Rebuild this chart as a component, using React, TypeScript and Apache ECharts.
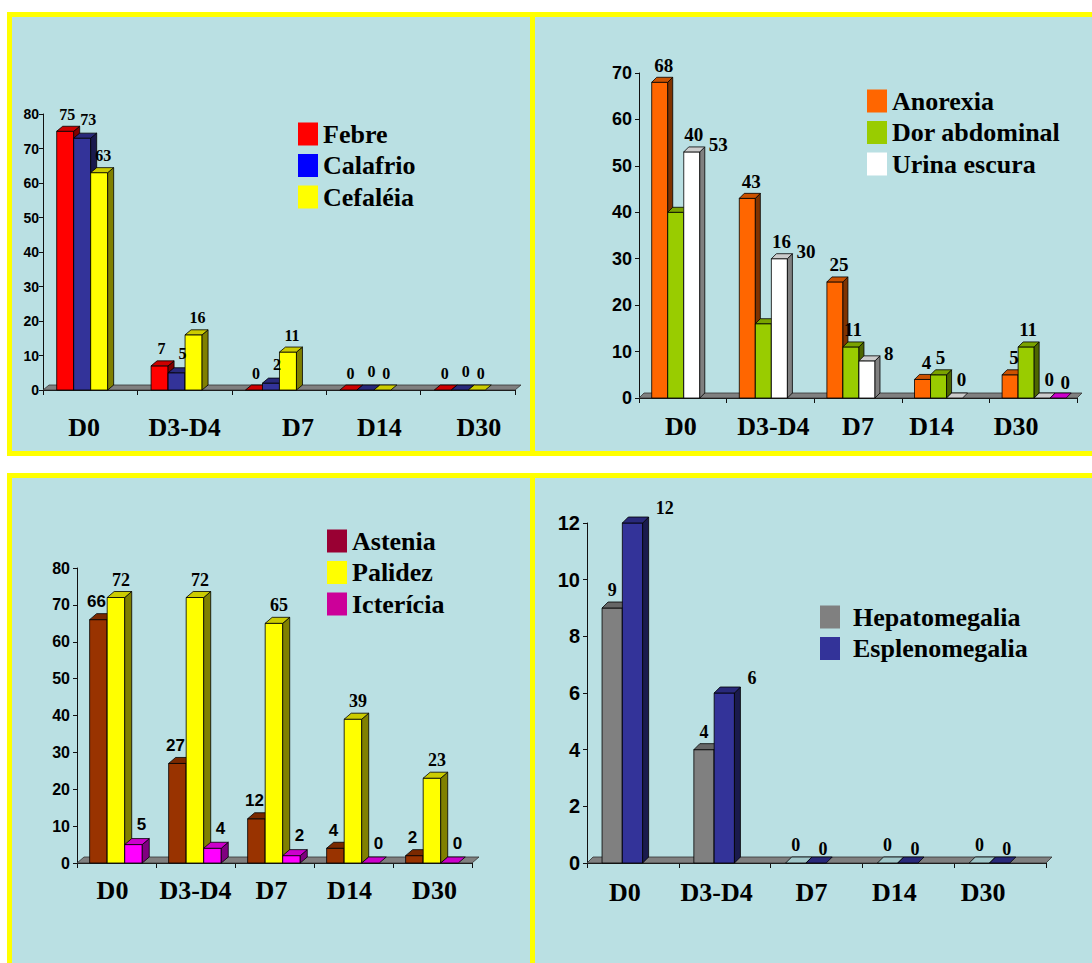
import React, { useEffect, useRef } from "react";
import * as echarts from "echarts";

const categories = ["D0", "D3-D4", "D7", "D14", "D30"];

// Panel 1 (top-left)
const febre = [75, 7, 0, 0, 0];
const calafrio = [73, 5, 2, 0, 0];
const cefaleia = [63, 16, 11, 0, 0];
// Panel 2 (top-right)
const anorexia = [68, 43, 25, 4, 5];
const dorAbdominal = [40, 16, 11, 5, 11];
const urinaEscura = [53, 30, 8, 0, 0];
const extraD30: (number | null)[] = [null, null, null, null, 0];
// Panel 3 (bottom-left)
const astenia = [66, 27, 12, 4, 2];
const palidez = [72, 72, 65, 39, 23];
const ictericia = [5, 4, 2, 0, 0];
// Panel 4 (bottom-right)
const hepatomegalia = [9, 4, 0, 0, 0];
const esplenomegalia = [12, 6, 0, 0, 0];

const SERIF = "'Liberation Serif', 'Times New Roman', serif";
const SANS = "'Liberation Sans', Arial, sans-serif";

const shade = (hex: string, f: number) => {
  const n = parseInt(hex.slice(1), 16);
  const r = Math.round(((n >> 16) & 255) * f);
  const g = Math.round(((n >> 8) & 255) * f);
  const b = Math.round((n & 255) * f);
  return `rgb(${r},${g},${b})`;
};

type SCfg = {
  name: string;
  data: (number | null)[];
  color: string;
  legendColor: string;
  font: string;
  size: number;
  ldx: number;
  ldy: number;
  mode?: "right";
  gap?: number;
  rdy?: number;
  ref?: (number | null)[];
  zeroTop?: string;
};

const panels: any[] = [
  {
    grid: { left: 43, top: 114, width: 472, height: 276 },
    yMax: 80, yStep: 10, yFont: 14, yMargin: 4,
    catMargin: 24, catShift: [-6, 0, 19, 6, 11],
    off: 0.145, bar: 0.18, dx: 6, dy: 5,
    legend: { left: 298, top: 121, pad: 0 },
    series: [
      { name: "Febre", data: febre, color: "#ff0000", legendColor: "#ff0000", font: SERIF, size: 16, ldx: 2, ldy: -17 },
      { name: "Calafrio", data: calafrio, color: "#333399", legendColor: "#0000ff", font: SERIF, size: 16, ldx: 6, ldy: -19 },
      { name: "Cefaléia", data: cefaleia, color: "#ffff00", legendColor: "#ffff00", font: SERIF, size: 16, ldx: 4, ldy: -17 },
    ] as SCfg[],
  },
  {
    grid: { left: 639, top: 73, width: 438, height: 325 },
    yMax: 70, yStep: 10, yFont: 18, yMargin: 7,
    catMargin: 15, catShift: [-2, 3, 0, -14, -17],
    off: 0.145, bar: 0.183, dx: 5, dy: 5,
    legend: { left: 867, top: 88, pad: 0 },
    series: [
      { name: "Anorexia", data: anorexia, color: "#ff6600", legendColor: "#ff6600", font: SERIF, size: 19, ldx: 4, ldy: -17 },
      { name: "Dor abdominal", data: dorAbdominal, color: "#99cc00", legendColor: "#99cc00", font: SERIF, size: 19, ldx: 2, ldy: -17, ref: urinaEscura },
      { name: "Urina escura", data: urinaEscura, color: "#ffffff", legendColor: "#ffffff", font: SERIF, size: 19, ldx: 7, ldy: -19, mode: "right", gap: 4, rdy: -7 },
      { name: "extra", data: extraD30, color: "#ff00ff", legendColor: "#ff00ff", font: SERIF, size: 19, ldx: 7, ldy: -16 },
    ] as SCfg[],
  },
  {
    grid: { left: 77, top: 568, width: 395, height: 295 },
    yMax: 80, yStep: 10, yFont: 16, yMargin: 7,
    catMargin: 14, catShift: [-4, 0, -3, -4, 2],
    off: 0.16, bar: 0.222, dx: 7, dy: 6,
    legend: { left: 327, top: 528, pad: 0 },
    series: [
      { name: "Astenia", data: astenia, color: "#993300", legendColor: "#990033", font: SANS, size: 17, ldx: -2, ldy: -18 },
      { name: "Palidez", data: palidez, color: "#ffff00", legendColor: "#ffff00", font: SERIF, size: 18, ldx: 5, ldy: -18 },
      { name: "Icterícia", data: ictericia, color: "#ff00ff", legendColor: "#cc0099", font: SANS, size: 17, ldx: 8, ldy: -20 },
    ] as SCfg[],
  },
  {
    grid: { left: 587, top: 523, width: 459, height: 340 },
    yMax: 12, yStep: 2, yFont: 20, yMargin: 7,
    catMargin: 16, catShift: [-8, -8, -5, -14, -17],
    off: 0.164, bar: 0.221, dx: 6, dy: 6,
    legend: { left: 820, top: 604, pad: 8 },
    series: [
      { name: "Hepatomegalia", data: hepatomegalia, color: "#808080", legendColor: "#808080", font: SERIF, size: 18, ldx: 0, ldy: -18, zeroTop: "#9fc6c8" },
      { name: "Esplenomegalia", data: esplenomegalia, color: "#333399", legendColor: "#333399", font: SERIF, size: 18, ldx: 7, ldy: -14, mode: "right", gap: 7, rdy: -15 },
    ] as SCfg[],
  },
];

function toData(arr: (number | null)[]) {
  const out: number[][] = [];
  arr.forEach((v, i) => {
    if (v !== null && v !== undefined) out.push([i, v]);
  });
  return out;
}

function barGeom(p: any, slot: number, api: any, idx: number) {
  const cw = api.size([1, 0])[0];
  const base = api.coord([idx, 0]);
  const w = p.bar * cw;
  const x0 = base[0] - cw / 2 + p.off * cw + slot * w;
  return { x0, w, yBot: base[1] };
}

function makeBarRender(p: any, s: SCfg, slot: number) {
  const front = s.color;
  const top = shade(s.color, 0.8);
  const side = shade(s.color, 0.5);
  return (params: any, api: any) => {
    const idx = api.value(0);
    const v = api.value(1);
    if (v === null || isNaN(v)) return null;
    const { x0, w, yBot } = barGeom(p, slot, api, idx);
    const yTop = api.coord([idx, v])[1];
    const { dx, dy } = p;
    const st = { stroke: "#000", lineWidth: 0.8 };
    const children: any[] = [];
    const h = yBot - yTop;
    if (h > 0.5) {
      children.push({ type: "rect", shape: { x: x0, y: yTop, width: w, height: h }, style: { fill: front, ...st } });
      children.push({
        type: "polygon",
        shape: { points: [[x0 + w, yTop], [x0 + w + dx, yTop - dy], [x0 + w + dx, yBot - dy], [x0 + w, yBot]] },
        style: { fill: side, ...st },
      });
    }
    children.push({
      type: "polygon",
      shape: { points: [[x0, yTop], [x0 + w, yTop], [x0 + w + dx, yTop - dy], [x0 + dx, yTop - dy]] },
      style: { fill: h > 0.5 || !s.zeroTop ? top : s.zeroTop, ...st },
    });
    return { type: "group", children };
  };
}

function makeLabelRender(p: any, s: SCfg, slot: number) {
  return (params: any, api: any) => {
    const idx = api.value(0);
    const v = api.value(1);
    if (v === null || isNaN(v)) return null;
    const { x0, w } = barGeom(p, slot, api, idx);
    let ty = api.coord([idx, v])[1];
    let cx = x0 + w / 2;
    let x: number, y: number;
    let align = "center";
    if (s.mode === "right" && v > 0) {
      x = x0 + w + p.dx + (s.gap || 0);
      y = ty + (s.rdy || 0);
      align = "left";
    } else {
      if (s.ref) {
        const rv = s.ref[idx];
        if (rv !== null && rv !== undefined && rv > v) {
          cx = x0 + w * 1.5;
          ty = api.coord([idx, rv])[1];
        }
      }
      x = cx + s.ldx;
      y = ty + s.ldy;
    }
    return {
      type: "text",
      style: {
        text: String(v),
        x,
        y,
        align,
        verticalAlign: "middle",
        fontFamily: s.font,
        fontWeight: "bold",
        fontSize: s.size,
        fill: "#000",
      },
    };
  };
}

function makeFloorRender(p: any) {
  return (params: any) => {
    const cs = params.coordSys;
    const x = cs.x, w = cs.width, yb = cs.y + cs.height;
    return {
      type: "polygon",
      shape: { points: [[x, yb], [x + w, yb], [x + w + p.dx, yb - p.dy], [x + p.dx, yb - p.dy]] },
      style: { fill: "#808080", stroke: "#333", lineWidth: 0.8 },
    };
  };
}

function buildOption() {
  const grid: any[] = [];
  const xAxis: any[] = [];
  const yAxis: any[] = [];
  const series: any[] = [];
  const legend: any[] = [];
  panels.forEach((p, gi) => {
    grid.push({ ...p.grid, containLabel: false });
    xAxis.push({
      type: "category",
      gridIndex: gi,
      data: categories.map((c, i) => {
        const sh = p.catShift[i];
        return {
          value: c,
          textStyle: { padding: sh >= 0 ? [0, 0, 0, 2 * sh] : [0, -2 * sh, 0, 0] },
        };
      }),
      boundaryGap: true,
      axisLine: { show: true, lineStyle: { color: "#111", width: 1 } },
      axisTick: { show: true, length: 5, lineStyle: { color: "#111" } },
      axisLabel: {
        margin: p.catMargin,
        fontFamily: SERIF,
        fontWeight: "bold",
        fontSize: 26,
        color: "#000",
        interval: 0,
      },
      splitLine: { show: false },
    });
    yAxis.push({
      type: "value",
      gridIndex: gi,
      min: 0,
      max: p.yMax,
      interval: p.yStep,
      axisLine: { show: true, lineStyle: { color: "#111", width: 1 } },
      axisTick: { show: true, length: 4, lineStyle: { color: "#111" } },
      axisLabel: { margin: p.yMargin, fontFamily: SANS, fontWeight: "bold", fontSize: p.yFont, color: "#000" },
      splitLine: { show: false },
    });
    series.push({
      type: "custom",
      name: "floor" + gi,
      xAxisIndex: gi,
      yAxisIndex: gi,
      z: 1,
      silent: true,
      data: [[0, 0]],
      renderItem: makeFloorRender(p),
    });
    (p.series as SCfg[]).forEach((s, slot) => {
      series.push({
        type: "custom",
        name: s.name,
        xAxisIndex: gi,
        yAxisIndex: gi,
        z: 2,
        itemStyle: { color: s.legendColor },
        data: toData(s.data),
        renderItem: makeBarRender(p, s, slot),
      });
    });
    (p.series as SCfg[]).forEach((s, slot) => {
      series.push({
        type: "custom",
        name: s.name,
        xAxisIndex: gi,
        yAxisIndex: gi,
        z: 3,
        itemStyle: { color: s.legendColor },
        data: toData(s.data),
        renderItem: makeLabelRender(p, s, slot),
      });
    });
    legend.push({
      data: (p.series as SCfg[]).filter((s) => s.name !== "extra").map((s) => ({ name: s.name, itemStyle: { color: s.legendColor, borderWidth: 0 } })),
      orient: "vertical",
      left: p.legend.left,
      top: p.legend.top,
      itemWidth: 20,
      itemHeight: 23,
      itemGap: 5.5,
      icon: "rect",
      selectedMode: false,
      padding: 0,
      textStyle: {
        fontFamily: SERIF,
        fontWeight: "bold",
        fontSize: 26,
        color: "#000",
        lineHeight: 23,
        padding: [0, 0, 0, p.legend.pad],
      },
    });
  });

  const YELLOW = "#ffff00";
  const CYAN = "#bae0e3";
  const graphic = [
    { type: "rect", z: -10, shape: { x: 7, y: 12, width: 1090, height: 444 }, style: { fill: YELLOW } },
    { type: "rect", z: -10, shape: { x: 7, y: 473, width: 1090, height: 495 }, style: { fill: YELLOW } },
    { type: "rect", z: -9, shape: { x: 12, y: 17, width: 518, height: 434 }, style: { fill: CYAN } },
    { type: "rect", z: -9, shape: { x: 535, y: 17, width: 560, height: 434 }, style: { fill: CYAN } },
    { type: "rect", z: -9, shape: { x: 12, y: 478, width: 518, height: 490 }, style: { fill: CYAN } },
    { type: "rect", z: -9, shape: { x: 535, y: 478, width: 560, height: 490 }, style: { fill: CYAN } },
  ];

  return {
    animation: false,
    backgroundColor: "#ffffff",
    graphic: { elements: graphic },
    grid,
    xAxis,
    yAxis,
    legend,
    series,
  };
}

export default function App() {
  const ref = useRef<HTMLDivElement>(null);
  useEffect(() => {
    if (!ref.current) return;
    const chart = echarts.init(ref.current, undefined, { renderer: "svg" });
    chart.setOption(buildOption() as any);
    return () => chart.dispose();
  }, []);
  return (
    <div
      ref={ref}
      style={{ position: "absolute", left: 0, top: 0, width: 1092, height: 963 }}
    />
  );
}
